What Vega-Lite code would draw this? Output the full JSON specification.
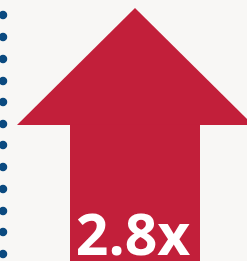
{
  "$schema": "https://vega.github.io/schema/vega-lite/v6.json",
  "width": 247,
  "height": 261,
  "padding": 0,
  "autosize": {"type": "none"},
  "background": "#f8f7f5",
  "config": {"view": {"stroke": null}},
  "layer": [
    {
      "data": {"values": [
        {"x": 3, "y": 15}, {"x": 3, "y": 37}, {"x": 3, "y": 59}, {"x": 3, "y": 81},
        {"x": 3, "y": 102}, {"x": 3, "y": 124}, {"x": 3, "y": 145}, {"x": 3, "y": 167},
        {"x": 3, "y": 189}, {"x": 3, "y": 211}, {"x": 3, "y": 232}, {"x": 3, "y": 254}
      ]},
      "mark": {"type": "circle", "clip": true, "opacity": 1, "color": "#0b4a80", "size": 72},
      "encoding": {
        "x": {"field": "x", "type": "quantitative", "scale": {"domain": [0, 247]}, "axis": null},
        "y": {"field": "y", "type": "quantitative", "scale": {"domain": [0, 261], "reverse": true}, "axis": null}
      }
    },
    {
      "data": {"values": [
        {"x": 17, "top": 125, "base": 125},
        {"x": 135, "top": 8, "base": 125},
        {"x": 253, "top": 125, "base": 125}
      ]},
      "mark": {"type": "area", "clip": true, "color": "#c21f3a", "opacity": 1},
      "encoding": {
        "x": {"field": "x", "type": "quantitative", "scale": {"domain": [0, 247]}, "axis": null},
        "y": {"field": "top", "type": "quantitative", "scale": {"domain": [0, 261], "reverse": true}, "axis": null},
        "y2": {"field": "base"}
      }
    },
    {
      "data": {"values": [{"x": 70, "x2": 200, "y": 124.5, "y2": 261}]},
      "mark": {"type": "rect", "clip": true, "color": "#c21f3a"},
      "encoding": {
        "x": {"field": "x", "type": "quantitative", "scale": {"domain": [0, 247]}, "axis": null},
        "x2": {"field": "x2"},
        "y": {"field": "y", "type": "quantitative", "scale": {"domain": [0, 261], "reverse": true}, "axis": null},
        "y2": {"field": "y2"}
      }
    },
    {
      "data": {"values": [{"x": 133, "y": 255, "label": "2.8x"}]},
      "mark": {"type": "text", "font": "Open Sans", "fontWeight": "bold", "fontSize": 57, "color": "white", "align": "center", "baseline": "alphabetic"},
      "encoding": {
        "x": {"field": "x", "type": "quantitative", "scale": {"domain": [0, 247]}, "axis": null},
        "y": {"field": "y", "type": "quantitative", "scale": {"domain": [0, 261], "reverse": true}, "axis": null},
        "text": {"field": "label"}
      }
    }
  ]
}
